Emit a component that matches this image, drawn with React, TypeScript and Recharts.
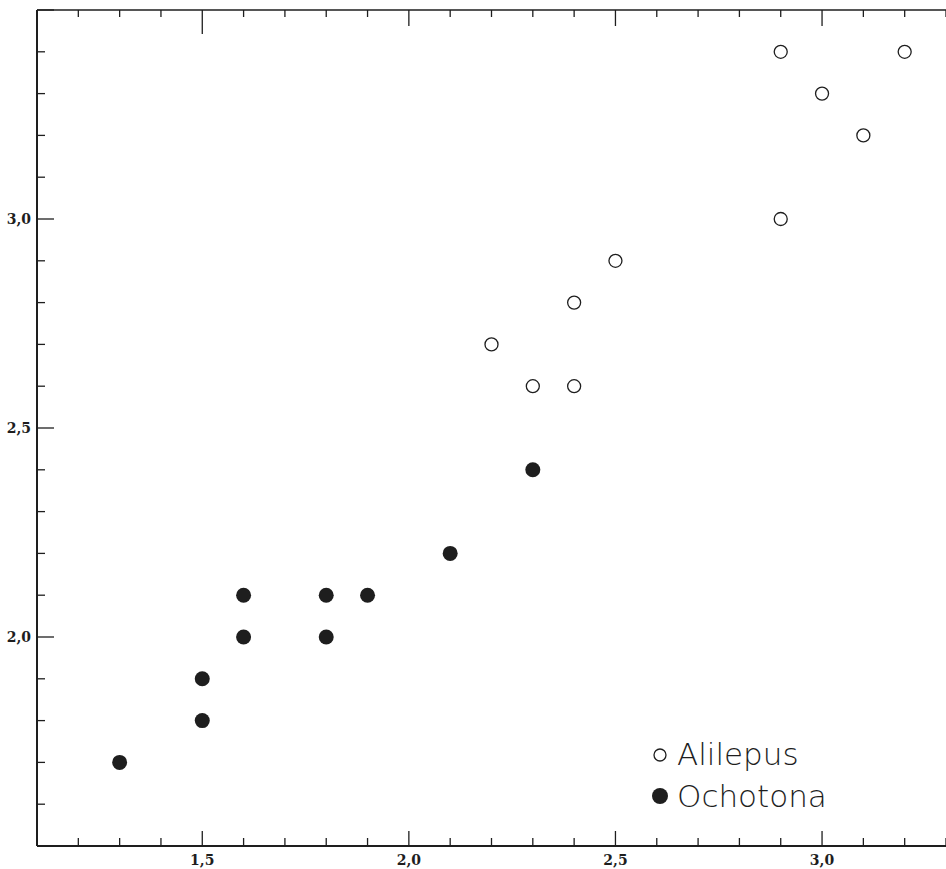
import React from 'react';
import { ScatterChart, Scatter, XAxis, YAxis } from 'recharts';

const X_TICKS = [1.1, 1.2, 1.3, 1.4, 1.5, 1.6, 1.7, 1.8, 1.9, 2.0, 2.1, 2.2, 2.3, 2.4, 2.5, 2.6, 2.7, 2.8, 2.9, 3.0, 3.1, 3.2, 3.3];
const Y_TICKS = [1.5, 1.6, 1.7, 1.8, 1.9, 2.0, 2.1, 2.2, 2.3, 2.4, 2.5, 2.6, 2.7, 2.8, 2.9, 3.0, 3.1, 3.2, 3.3, 3.4, 3.5];
const X_LABELS = [1.5, 2.0, 2.5, 3.0];
const Y_LABELS = [2.0, 2.5, 3.0];

const alilepusX = [2.9, 3.2, 3.0, 3.1, 2.9, 2.5, 2.4, 2.2, 2.3, 2.4];
const alilepusY = [3.4, 3.4, 3.3, 3.2, 3.0, 2.9, 2.8, 2.7, 2.6, 2.6];

const ochotonaX = [2.3, 2.1, 1.6, 1.8, 1.9, 1.6, 1.8, 1.5, 1.5, 1.3];
const ochotonaY = [2.4, 2.2, 2.1, 2.1, 2.1, 2.0, 2.0, 1.9, 1.8, 1.7];

const alilepus = alilepusX.map((x, i) => ({ x, y: alilepusY[i] }));
const ochotona = ochotonaX.map((x, i) => ({ x, y: ochotonaY[i] }));

const INK = '#1e1e1e';
const LABEL_FONT = '"DejaVu Serif", "Liberation Serif", serif';

const isMajor = (v: number) => Math.abs(v * 2 - Math.round(v * 2)) < 1e-6;
const fmt = (v: number) => v.toFixed(1).replace('.', ',');
const hasLabel = (list: number[], v: number) => list.some((l) => Math.abs(l - v) < 1e-6);

const BottomTick = (props: any) => {
  const { x, y, payload } = props;
  const v = payload.value;
  const len = isMajor(v) ? 15 : 8;
  return (
    <g>
      <line x1={x} y1={y} x2={x} y2={y - len} stroke={INK} strokeWidth={1.3} />
      {hasLabel(X_LABELS, v) && (
        <text x={x} y={y + 19} textAnchor="middle" fontSize={14} fontFamily={LABEL_FONT} fontWeight="bold" fill={INK}>
          {fmt(v)}
        </text>
      )}
    </g>
  );
};

const TopTick = (props: any) => {
  const { x, y, payload } = props;
  const v = payload.value;
  const len = isMajor(v) ? (Math.abs(v - 1.5) < 1e-6 ? 24 : 16) : 7;
  return <line x1={x} y1={y} x2={x} y2={y + len} stroke={INK} strokeWidth={1.3} />;
};

const LeftTick = (props: any) => {
  const { x, y, payload } = props;
  const v = payload.value;
  const len = isMajor(v) ? 17 : 8;
  return (
    <g>
      <line x1={x} y1={y} x2={x + len} y2={y} stroke={INK} strokeWidth={1.3} />
      {hasLabel(Y_LABELS, v) && (
        <text x={x - 6} y={y + 5} textAnchor="end" fontSize={14} fontFamily={LABEL_FONT} fontWeight="bold" fill={INK}>
          {fmt(v)}
        </text>
      )}
    </g>
  );
};

const RightTick = (props: any) => {
  const { x, y, payload } = props;
  const v = payload.value;
  const len = isMajor(v) ? 16 : 6;
  return <line x1={x} y1={y} x2={x - len} y2={y} stroke={INK} strokeWidth={1.3} />;
};

const OpenDot = (props: any) => (
  <circle cx={props.cx} cy={props.cy} r={6.5} fill="#fff" stroke={INK} strokeWidth={1.3} />
);

const FilledDot = (props: any) => (
  <circle cx={props.cx} cy={props.cy} r={7.5} fill={INK} stroke="none" />
);

const LegendBox = () => (
  <div
    style={{
      position: 'absolute',
      left: 650,
      top: 733,
      fontFamily: '"DejaVu Sans", sans-serif',
      fontWeight: 200,
      fontSize: 31,
      color: INK,
      lineHeight: '42px',
    }}
  >
    <div style={{ display: 'flex', alignItems: 'center' }}>
      <svg width={20} height={20} style={{ marginRight: 7 }}>
        <circle cx={10} cy={11} r={6} fill="#fff" stroke={INK} strokeWidth={1.3} />
      </svg>
      <span>Alilepus</span>
    </div>
    <div style={{ display: 'flex', alignItems: 'center' }}>
      <svg width={20} height={20} style={{ marginRight: 7 }}>
        <circle cx={10} cy={10} r={8} fill={INK} />
      </svg>
      <span>Ochotona</span>
    </div>
  </div>
);

export default function App() {
  return (
    <div style={{ position: 'absolute', left: 0, top: 0, width: 946, height: 869, background: '#fff' }}>
      <ScatterChart width={946} height={869} margin={{ top: 9, right: 0, bottom: 0, left: 0 }}>
        <XAxis
          xAxisId="bottom"
          type="number"
          dataKey="x"
          domain={[1.1, 3.3]}
          ticks={X_TICKS}
          interval={0}
          orientation="bottom"
          height={23}
          tickSize={0}
          tickMargin={0}
          tick={<BottomTick />}
          axisLine={{ stroke: INK, strokeWidth: 2 }}
          allowDataOverflow
        />
        <XAxis
          xAxisId="top"
          type="number"
          dataKey="x"
          domain={[1.1, 3.3]}
          ticks={X_TICKS}
          interval={0}
          orientation="top"
          height={1}
          tickSize={0}
          tickMargin={0}
          tick={<TopTick />}
          axisLine={{ stroke: INK, strokeWidth: 1.5 }}
          allowDataOverflow
        />
        <YAxis
          yAxisId="left"
          type="number"
          dataKey="y"
          domain={[1.5, 3.5]}
          ticks={Y_TICKS}
          interval={0}
          orientation="left"
          width={37}
          tickSize={0}
          tickMargin={0}
          tick={<LeftTick />}
          axisLine={{ stroke: INK, strokeWidth: 2 }}
          allowDataOverflow
        />
        <YAxis
          yAxisId="right"
          type="number"
          dataKey="y"
          domain={[1.5, 3.5]}
          ticks={Y_TICKS}
          interval={0}
          orientation="right"
          width={0}
          tickSize={0}
          tickMargin={0}
          tick={<RightTick />}
          axisLine={false}
          allowDataOverflow
        />
        <Scatter
          name="Alilepus"
          data={alilepus}
          xAxisId="bottom"
          yAxisId="left"
          shape={<OpenDot />}
          isAnimationActive={false}
        />
        <Scatter
          name="Ochotona"
          data={ochotona}
          xAxisId="bottom"
          yAxisId="left"
          shape={<FilledDot />}
          isAnimationActive={false}
        />
      </ScatterChart>
      <LegendBox />
    </div>
  );
}
